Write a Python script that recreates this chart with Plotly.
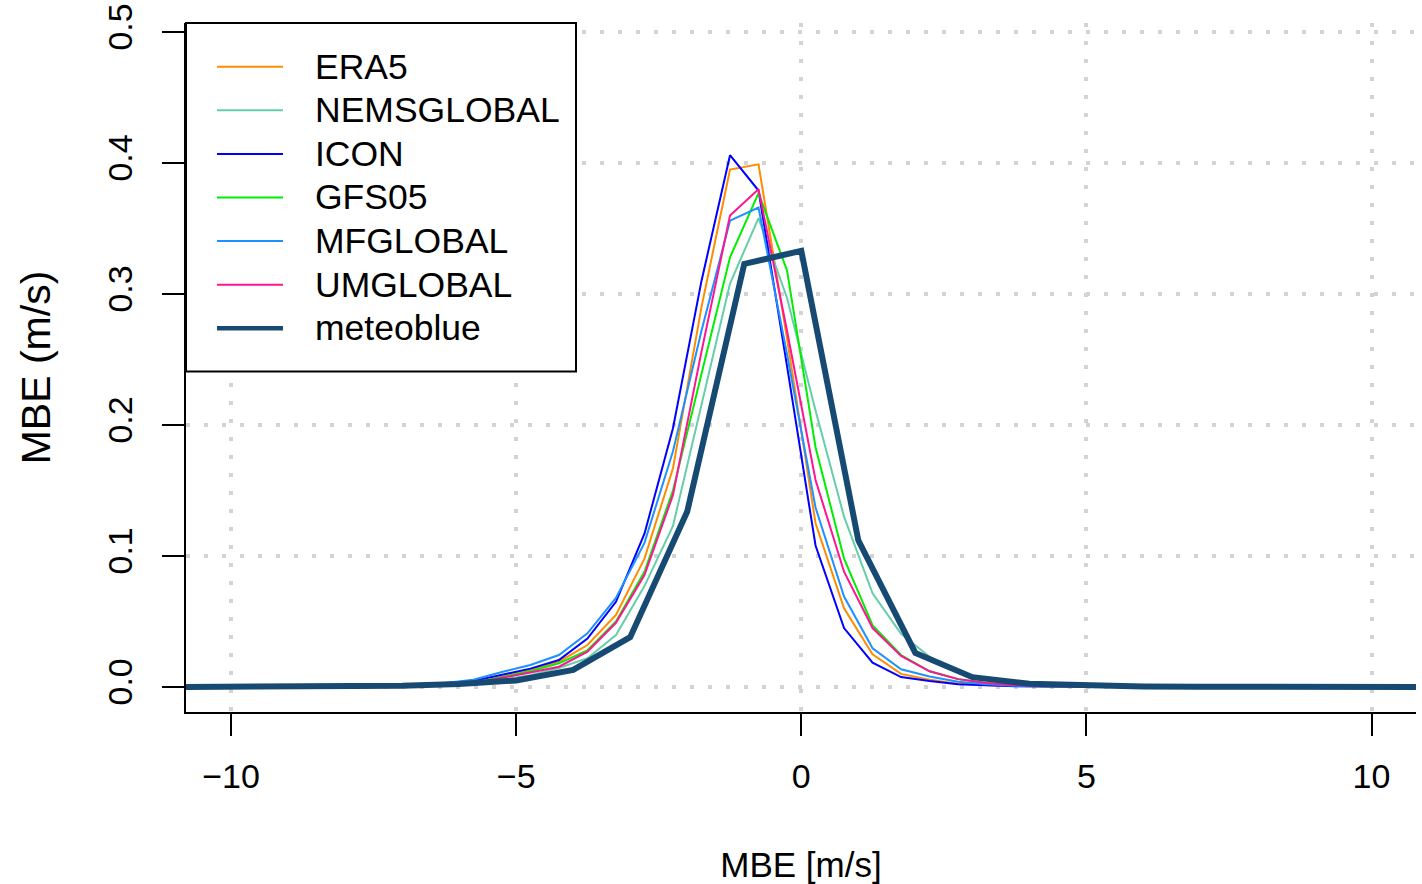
import plotly.graph_objects as go

# ---------------- data ----------------
x_models = [-11.25, -10.75, -10.25, -9.75, -9.25, -8.75, -8.25, -7.75, -7.25, -6.75, -6.25,
            -5.75, -5.25, -4.75, -4.25, -3.75, -3.25, -2.75, -2.25, -1.75, -1.25, -0.75, -0.25,
            0.25, 0.75, 1.25, 1.75, 2.25, 2.75, 3.25, 3.75, 4.25, 4.75, 5.25, 5.75,
            6.25, 6.75, 7.25, 7.75, 8.25, 8.75, 9.25, 9.75, 10.25, 10.75, 11.25]

era5 = [0, 0, 0, 0.0001, 0.0001, 0.0002, 0.0003, 0.0005, 0.0008, 0.0013, 0.0021,
        0.0035, 0.008, 0.013, 0.0193, 0.032, 0.055, 0.098, 0.167, 0.290, 0.395, 0.399, 0.266,
        0.125, 0.060, 0.025, 0.010, 0.0055, 0.0025, 0.0013, 0.0007, 0.0004, 0.0002, 0.0001, 0.0001,
        0, 0, 0, 0, 0, 0, 0, 0, 0, 0, 0]
nemsglobal = [0, 0, 0, 0.0001, 0.0001, 0.0001, 0.0002, 0.0003, 0.0005, 0.0008, 0.0014,
              0.0025, 0.0055, 0.009, 0.0145, 0.022, 0.0397, 0.077, 0.123, 0.215, 0.308, 0.358, 0.297,
              0.211, 0.130, 0.0715, 0.0405, 0.023, 0.012, 0.006, 0.003, 0.0015, 0.0008, 0.0004, 0.0002,
              0.0001, 0, 0, 0, 0, 0, 0, 0, 0, 0, 0]
icon = [0, 0, 0, 0.0001, 0.0001, 0.0002, 0.0003, 0.0005, 0.0009, 0.0015, 0.0025,
        0.0045, 0.009, 0.014, 0.0206, 0.037, 0.065, 0.117, 0.1975, 0.310, 0.406, 0.379, 0.245,
        0.108, 0.045, 0.0186, 0.0076, 0.0045, 0.002, 0.001, 0.0005, 0.0003, 0.0002, 0.0001, 0.0001,
        0, 0, 0, 0, 0, 0, 0, 0, 0, 0, 0]
gfs05 = [0, 0, 0, 0.0001, 0.0001, 0.0002, 0.0003, 0.0004, 0.0007, 0.0012, 0.002,
         0.0033, 0.0075, 0.012, 0.018, 0.028, 0.050, 0.088, 0.150, 0.240, 0.328, 0.377, 0.318,
         0.183, 0.098, 0.047, 0.0244, 0.012, 0.006, 0.003, 0.0015, 0.0008, 0.0004, 0.0002, 0.0001,
         0, 0, 0, 0, 0, 0, 0, 0, 0, 0, 0]
mfglobal = [0, 0, 0, 0.0001, 0.0002, 0.0003, 0.0004, 0.0006, 0.001, 0.0017, 0.003,
            0.0055, 0.0115, 0.0168, 0.0244, 0.041, 0.068, 0.110, 0.180, 0.272, 0.356, 0.366, 0.254,
            0.137, 0.069, 0.0295, 0.0135, 0.008, 0.004, 0.002, 0.001, 0.0006, 0.0003, 0.0002, 0.0001,
            0, 0, 0, 0, 0, 0, 0, 0, 0, 0, 0]
umglobal = [0, 0, 0, 0.0001, 0.0001, 0.0002, 0.0003, 0.0004, 0.0007, 0.0011, 0.0018,
            0.003, 0.0068, 0.011, 0.0155, 0.027, 0.049, 0.0855, 0.1466, 0.256, 0.360, 0.380, 0.272,
            0.158, 0.088, 0.045, 0.0237, 0.012, 0.006, 0.003, 0.0015, 0.0008, 0.0004, 0.0002, 0.0001,
            0, 0, 0, 0, 0, 0, 0, 0, 0, 0, 0]

x_meteoblue = [-11, -10, -9, -8, -7, -6, -5, -4, -3, -2, -1, 0, 1, 2, 3, 4, 5, 6, 7, 8, 9, 10, 11]
meteoblue = [0, 0.0001, 0.0002, 0.0004, 0.001, 0.0023, 0.005, 0.013, 0.038, 0.134, 0.323, 0.333,
             0.112, 0.026, 0.0075, 0.0025, 0.0009, 0.0004, 0.0002, 0.0001, 0, 0, 0]

series_names = ["ERA5", "NEMSGLOBAL", "ICON", "GFS05", "MFGLOBAL", "UMGLOBAL", "meteoblue"]
series_values = [era5, nemsglobal, icon, gfs05, mfglobal, umglobal, meteoblue]
series_colors = ["#FF8C00", "#66CDAA", "#0000FF", "#00EE00", "#1E90FF", "#FF1493", "#174A73"]
series_widths = [2, 2, 2, 2, 2, 2, 6]

x_tickvals = [-10, -5, 0, 5, 10]
x_ticktext = ["\u221210", "\u22125", "0", "5", "10"]
y_tickvals = [0.0, 0.1, 0.2, 0.3, 0.4, 0.5]
y_ticktext = ["0.0", "0.1", "0.2", "0.3", "0.4", "0.5"]

FONT = "Liberation Sans, Arial, Helvetica, sans-serif"

# ---------------- figure ----------------
W, H = 1422, 884
OFF = 0  # body margin removed by post_script below
# target plot box in page pixels: x 186..1416, y 23..712
PL, PR, PT, PB = 186, 1416, 23, 712
ML, MT = PL - OFF, PT - OFF
MR = W - (PR - OFF)
MB = H - (PB - OFF)
PW, PH = PR - PL, PB - PT

fig = go.Figure()
for name, vals, col, lw in zip(series_names, series_values, series_colors, series_widths):
    xs = x_meteoblue if name == "meteoblue" else x_models
    fig.add_trace(go.Scatter(x=xs, y=vals, mode="lines", name=name,
                             line=dict(color=col, width=lw), showlegend=False))

# manual legend (R-style box in the top-left corner), positions in page pixels
def px_x(p):
    return (p - PL) / PW

def px_y(p):
    return (PB - p) / PH

shapes = [dict(type="rect", xref="paper", yref="paper",
               x0=px_x(186), x1=px_x(576), y0=px_y(371.5), y1=px_y(23),
               line=dict(color="black", width=2), fillcolor="white", layer="above")]
annotations = []
row0, row_step = 66.7, 43.6
for i, (name, col, lw) in enumerate(zip(series_names, series_colors, series_widths)):
    yy = px_y(row0 + i * row_step)
    shapes.append(dict(type="line", xref="paper", yref="paper",
                       x0=px_x(217), x1=px_x(283), y0=yy, y1=yy,
                       line=dict(color=col, width=2 if lw < 3 else 4.5), layer="above"))
    annotations.append(dict(xref="paper", yref="paper", x=px_x(313), y=yy,
                            text=name, showarrow=False, xanchor="left", yanchor="middle",
                            font=dict(family=FONT, size=35.5, color="black")))

fig.update_layout(
    width=W, height=H,
    margin=dict(l=ML, r=MR, t=MT, b=MB, autoexpand=False),
    paper_bgcolor="white", plot_bgcolor="white",
    font=dict(family=FONT, color="black"),
    shapes=shapes, annotations=annotations,
    showlegend=False,
)

fig.update_xaxes(
    range=[-10.79, 10.78], tickvals=x_tickvals, ticktext=x_ticktext,
    ticks="outside", ticklen=22, tickwidth=2, tickcolor="black",
    tickfont=dict(family=FONT, size=34, color="black"), ticklabelstandoff=11,
    ticklabeloverflow="allow",
    showline=True, linecolor="black", linewidth=2, mirror=False,
    showgrid=True, gridcolor="#D3D3D3", gridwidth=4, griddash="4px,14px",
    zeroline=False,
    title=dict(text="MBE [m/s]", font=dict(family=FONT, size=35, color="black"), standoff=61),
)
fig.update_yaxes(
    range=[-0.0191, 0.5069], tickvals=y_tickvals, ticktext=y_ticktext,
    ticks="outside", ticklen=22, tickwidth=2, tickcolor="black", tickangle=-90,
    tickfont=dict(family=FONT, size=34, color="black"), ticklabelstandoff=16,
    ticklabeloverflow="allow",
    showline=True, linecolor="black", linewidth=2, mirror=False,
    showgrid=True, gridcolor="#D3D3D3", gridwidth=4, griddash="4px,14px",
    zeroline=False,
    title=dict(text="MBE (m/s)", font=dict(family=FONT, size=41, color="black"), standoff=38),
)

fig.write_html("out.html",
               config={"displayModeBar": False},
               post_script="document.body.style.margin='0px';document.body.style.padding='0px';")
